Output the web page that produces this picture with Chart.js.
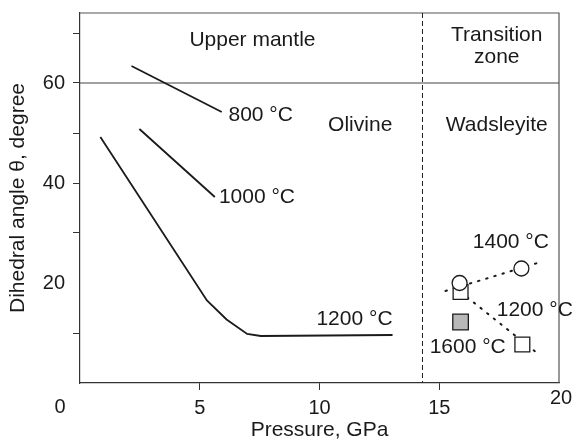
<!DOCTYPE html>
<html>
<head>
<meta charset="utf-8">
<script src="https://cdn.jsdelivr.net/npm/chart.js@4.4.0/dist/chart.umd.min.js"></script>
<style>
  html, body { margin: 0; padding: 0; background: #fff; }
  #wrap { width: 578px; height: 443px; }
</style>
</head>
<body>
<div id="wrap"><canvas id="dihedral"></canvas></div>
<script>
// olivine curves (pressure GPa / angle deg)
var p800 = [2.15, 5.92];
var a800 = [63.4, 54.2];
var p1000 = [2.48, 5.63];
var a1000 = [50.8, 37.2];
var p1200 = [0.85, 5.3, 6.12, 6.98, 7.55, 13.05];
var a1200 = [49.2, 16.5, 12.7, 9.8, 9.4, 9.6];

// wadsleyite measurements
var pW1200 = [15.89, 18.47];
var aW1200 = [18.2, 7.7];
var pW1400 = [15.85, 18.43];
var aW1400 = [20.0, 22.9];
var pW1600 = [15.89];
var aW1600 = [12.2];

// dotted trend lines
var pTr1400 = [15.26, 19.24];
var aTr1400 = [18.4, 24.2];
var pTr1200 = [15.89, 19.03];
var aTr1200 = [18.2, 6.2];

var boundaryP = 14.3;   // olivine -> wadsleyite
var boundaryA = 60;     // upper mantle box

var yLabels = [20, 40, 60];
var xLabels = [5, 10, 15];

function pts(xs, ys) {
    return xs.map(function (x, i) { return { x: x, y: ys[i] }; });
}

var FONT = '"Liberation Sans", Arial, sans-serif';
var INK = '#1a1a1a';

var solid = function (xs, ys) {
    return {
        data: pts(xs, ys), borderColor: INK, borderWidth: 1.8,
        pointRadius: 0, showLine: true, fill: false, order: 2
    };
};
var dotted = function (xs, ys) {
    return {
        data: pts(xs, ys), borderColor: INK, borderWidth: 2, borderDash: [1.5, 7],
        borderCapStyle: 'round', pointRadius: 0, showLine: true, fill: false, order: 3
    };
};
// no tick marks at the corners of the frame
var tickColor = function (c) {
    var v = c.tick ? c.tick.value : null;
    return (v === 0 || v === 20) ? 'rgba(0,0,0,0)' : '#333';
};

// frame, guide lines and text, placed in data coordinates
var notes = {
    id: 'notes',
    beforeDatasetsDraw: function (chart) {
        var c = chart.ctx, a = chart.chartArea;
        var xs = chart.scales.x, ys = chart.scales.y;
        c.save();
        c.strokeStyle = '#555';
        c.lineWidth = 1.2;
        c.beginPath();
        c.moveTo(a.left, a.top);
        c.lineTo(a.right, a.top);
        c.lineTo(a.right, a.bottom);
        c.stroke();
        c.strokeStyle = '#444';
        c.lineWidth = 1;
        c.beginPath();
        c.moveTo(a.left, ys.getPixelForValue(boundaryA));
        c.lineTo(a.right, ys.getPixelForValue(boundaryA));
        c.stroke();
        c.setLineDash([5, 3]);
        c.strokeStyle = '#222';
        c.beginPath();
        c.moveTo(xs.getPixelForValue(boundaryP), a.top);
        c.lineTo(xs.getPixelForValue(boundaryP), a.bottom);
        c.stroke();
        c.restore();
    },
    afterDatasetsDraw: function (chart) {
        var c = chart.ctx;
        var xs = chart.scales.x, ys = chart.scales.y;
        function t(s, x, y, align) {
            c.textAlign = align || 'center';
            c.fillText(s, xs.getPixelForValue(x), ys.getPixelForValue(y));
        }
        c.save();
        c.fillStyle = INK;
        c.textBaseline = 'middle';
        c.font = '21px ' + FONT;
        t('Upper mantle', 7.2, 68.6);
        t('Transition', 17.4, 69.6);
        t('zone', 17.4, 65.2);
        t('Olivine', 11.7, 51.6);
        t('Wadsleyite', 17.4, 51.6);
        t('800 °C', 6.2, 53.6, 'left');
        t('1000 °C', 5.8, 37.2, 'left');
        t('1200 °C', 13.05, 12.8, 'right');
        t('1400 °C', 16.4, 28.1, 'left');
        t('1200 °C', 17.4, 14.6, 'left');
        t('1600 °C', 14.6, 7.2, 'left');
        c.restore();

        // corner tick labels
        c.save();
        c.fillStyle = INK;
        c.font = '20px ' + FONT;
        c.textAlign = 'center';
        c.textBaseline = 'middle';
        c.fillText('0', 60, 407);
        c.fillText('20', 561, 398);
        c.restore();
    }
};

var ctx = document.getElementById('dihedral').getContext('2d');
var chart = new Chart(ctx, {
    type: 'scatter',
    data: {
        datasets: [
            solid(p800, a800),
            solid(p1000, a1000),
            solid(p1200, a1200),
            dotted(pTr1400, aTr1400),
            dotted(pTr1200, aTr1200),
            {
                data: pts(pW1200, aW1200), pointStyle: 'rect', pointRadius: 10.5,
                backgroundColor: '#ffffff', borderColor: INK, borderWidth: 1.3, order: 1
            },
            {
                data: pts(pW1400, aW1400), pointStyle: 'circle', pointRadius: 7.5,
                backgroundColor: '#ffffff', borderColor: INK, borderWidth: 1.3, order: 0
            },
            {
                data: pts(pW1600, aW1600), pointStyle: 'rect', pointRadius: 11,
                backgroundColor: '#b8b8b8', borderColor: INK, borderWidth: 1.3, order: 1
            }
        ]
    },
    options: {
        responsive: true,
        maintainAspectRatio: false,
        animation: false,
        events: [],
        layout: { padding: { top: 13, right: 19, left: 0, bottom: 0 } },
        plugins: { legend: { display: false }, tooltip: { enabled: false } },
        scales: {
            x: {
                type: 'linear',
                min: 0, max: 20,
                border: { display: true, color: '#333', width: 1.2 },
                grid: { drawOnChartArea: false, tickLength: 7, color: tickColor },
                ticks: {
                    stepSize: 5, padding: 6, color: INK,
                    font: { family: FONT, size: 20 },
                    callback: function (v) { return xLabels.indexOf(v) >= 0 ? String(v) : ''; }
                },
                title: {
                    display: true, text: 'Pressure, GPa', color: INK,
                    font: { family: FONT, size: 21 }, padding: { top: 0, bottom: 0 }
                },
                afterFit: function (s) { s.height = 60; }
            },
            y: {
                min: 0, max: 74,
                border: { display: true, color: '#333', width: 1.2 },
                grid: { drawOnChartArea: false, tickLength: 7, color: tickColor },
                ticks: {
                    stepSize: 10, includeBounds: false, padding: 8, color: INK,
                    font: { family: FONT, size: 20, lineHeight: 0.5 },
                    callback: function (v) { return yLabels.indexOf(v) >= 0 ? String(v) : ''; }
                },
                title: {
                    display: true, text: 'Dihedral angle θ, degree', color: INK,
                    font: { family: FONT, size: 21 }, padding: { top: 6, bottom: 0 }
                },
                afterFit: function (s) { s.width = 80; }
            }
        }
    },
    plugins: [notes]
});
</script>
</body>
</html>
